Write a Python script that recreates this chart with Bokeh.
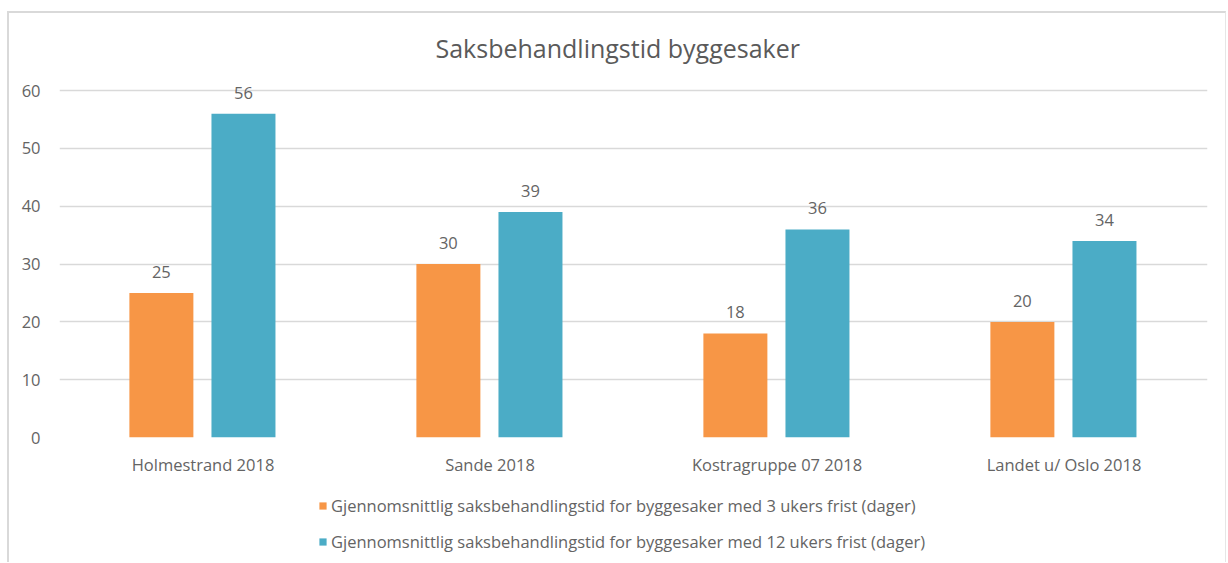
from bokeh.plotting import figure
from bokeh.layouts import column
from bokeh.models import (ColumnDataSource, FactorRange, Range1d, FixedTicker, Legend,
                          LegendItem, LabelSet, Title)
from bokeh.core.properties import value
from bokeh.transform import dodge
from bokeh.embed import file_html
from bokeh.resources import INLINE

categories = ["Holmestrand 2018", "Sande 2018", "Kostragruppe 07 2018", "Landet u/ Oslo 2018"]
frist3 = [25, 30, 18, 20]
frist12 = [56, 39, 36, 34]
series_names = [
    "Gjennomsnittlig saksbehandlingstid for byggesaker med 3 ukers frist (dager)",
    "Gjennomsnittlig saksbehandlingstid for byggesaker med 12 ukers frist (dager)",
]
y_ticks = [0, 10, 20, 30, 40, 50, 60]
title_text = "Saksbehandlingstid byggesaker"

ORANGE = "#F79646"
BLUE = "#4BACC6"
FONT = "Open Sans"
TXT = "#646464"
TITLE_TXT = "#5a5a5a"
FS = "16.5px"

src = ColumnDataSource(data=dict(
    cat=categories, a=frist3, b=frist12,
    la=[str(v) for v in frist3], lb=[str(v) for v in frist12],
))

x_range = FactorRange(*categories, range_padding=0)

# ---------------- main chart ----------------
p = figure(x_range=x_range, y_range=Range1d(0, 64),
           width=1216, height=470, output_backend="svg", toolbar_location=None,
           min_border_left=50, min_border_right=18, min_border_top=54, min_border_bottom=46)
p.outline_line_color = None
p.background_fill_color = "white"
p.border_fill_color = "white"

ra = p.vbar(x=dodge("cat", -0.145, range=x_range), top="a", width=0.223, source=src,
            fill_color=ORANGE, line_color=None)
rb = p.vbar(x=dodge("cat", 0.141, range=x_range), top="b", width=0.223, source=src,
            fill_color=BLUE, line_color=None)

for col, lab, off in (("a", "la", -0.145), ("b", "lb", 0.141)):
    ls = LabelSet(x=dodge("cat", off, range=x_range), y=col, text=lab, source=src,
                  y_offset=21, text_align="center", text_baseline="middle",
                  text_font=value(FONT), text_font_size=value(FS), text_color=TXT)
    p.add_layout(ls)

p.title = Title(text=title_text, align="left", text_font=FONT, text_font_size="25px",
                text_font_style="normal", text_color=TITLE_TXT, standoff=5, offset=376)

p.yaxis.ticker = FixedTicker(ticks=y_ticks)
p.yaxis.axis_line_color = None
p.yaxis.major_tick_line_color = None
p.yaxis.minor_tick_line_color = None
p.yaxis.major_tick_out = 0
p.yaxis.major_label_standoff = 19
p.yaxis.major_label_text_font = FONT
p.yaxis.major_label_text_font_size = FS
p.yaxis.major_label_text_color = TXT

p.xaxis.axis_line_color = None
p.xaxis.major_tick_line_color = None
p.xaxis.major_tick_out = 0
p.xaxis.major_label_standoff = 15
p.xaxis.major_label_text_font = FONT
p.xaxis.major_label_text_font_size = FS
p.xaxis.major_label_text_color = TXT

p.xgrid.grid_line_color = None
p.ygrid.grid_line_color = "#d9d9d9"
p.ygrid.grid_line_width = 1.5
p.ygrid.ticker = FixedTicker(ticks=y_ticks)

# ---------------- legend strip ----------------
q = figure(x_range=x_range, y_range=Range1d(0, 1), width=1216, height=79,
           output_backend="svg", toolbar_location=None, x_axis_type=None, y_axis_type=None,
           min_border_left=0, min_border_right=0, min_border_top=0, min_border_bottom=0)
q.outline_line_color = None
q.xgrid.grid_line_color = None
q.ygrid.grid_line_color = None
q.background_fill_color = "white"
q.border_fill_color = "white"

qa = q.vbar(x=dodge("cat", -0.145, range=x_range), top="a", width=0.223, source=src,
            fill_color=ORANGE, line_color=None, visible=False)
qb = q.vbar(x=dodge("cat", 0.141, range=x_range), top="b", width=0.223, source=src,
            fill_color=BLUE, line_color=None, visible=False)

legend = Legend(items=[LegendItem(label=series_names[0], renderers=[qa]),
                       LegendItem(label=series_names[1], renderers=[qb])],
                location=(259, 9), orientation="vertical",
                glyph_width=9, glyph_height=9, label_standoff=4, spacing=13,
                padding=0, margin=0, border_line_color=None, background_fill_alpha=0,
                inactive_fill_alpha=0,
                label_text_font=FONT, label_text_font_size=FS, label_text_color=TXT,
                label_height=20)
q.add_layout(legend)

layout = column(p, q, spacing=0,
                styles={"border-left": "2px solid #d9d9d9", "border-top": "2px solid #d9d9d9",
                        "border-right": "1px solid #e6e6e6",
                        "margin-top": "11px", "margin-left": "7px"})

open("out.html", "w").write(file_html(layout, INLINE))
